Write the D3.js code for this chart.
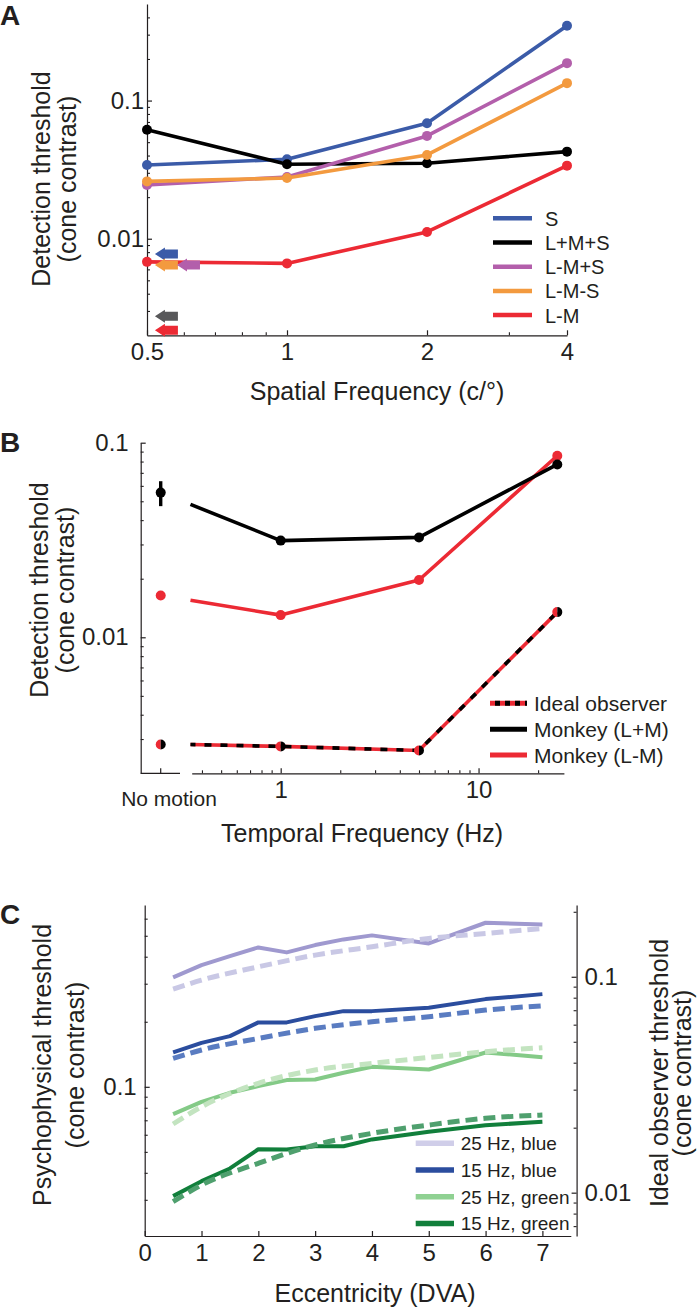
<!DOCTYPE html>
<html><head><meta charset="utf-8">
<script src="https://cdn.jsdelivr.net/npm/d3@7"></script>
<style>
body{margin:0;background:#fff}
svg text{font-family:"Liberation Sans",Arial,sans-serif;fill:#231f20}
</style></head><body>
<script>
// ================= DATA =================
// Panel A : detection threshold vs spatial frequency
const sfA = [0.5, 1, 2, 4];
const namesA = ["S", "L+M+S", "L-M+S", "L-M-S", "L-M"];
const colorsA = ["#3b5ba8", "#000000", "#b35fab", "#f39a3f", "#ec2a34"];
const thrA_S     = [0.0342, 0.0376, 0.0686, 0.348];
const thrA_LpMpS = [0.0614, 0.0346, 0.0352, 0.0427];
const thrA_LmMpS = [0.0245, 0.0280, 0.0555, 0.1866];
const thrA_LmMmS = [0.0260, 0.0275, 0.0404, 0.1337];
const thrA_LmM   = [0.0068, 0.00663, 0.0112, 0.0338];
// arrows (ideal observer thresholds)
const arrowNamesA = ["S", "L-M-S", "L-M+S", "L+M+S", "L-M"];
const arrowValsA  = [0.00775, 0.00645, 0.00645, 0.00275, 0.00218];
const arrowSfA    = [0.52, 0.52, 0.58, 0.52, 0.52];
const arrowColorsA = ["#3b5ba8", "#f39a3f", "#b35fab", "#58585a", "#ec2a34"];
const yTicksA = [0.01, 0.1];
const yTickLabelsA = ["0.01", "0.1"];
const xTicksA = [0.5, 1, 2, 4];
const xTickLabelsA = ["0.5", "1", "2", "4"];

// Panel B : detection threshold vs temporal frequency
const tfB = [0.35, 1, 5, 25];
const thrB_LpM   = [0.0482, 0.0314, 0.0326, 0.0773];
const thrB_LmM   = [0.0155, 0.0130, 0.0197, 0.0857];
const thrB_Ideal = [0.00281, 0.00275, 0.00262, 0.01347];
const markB = [false, true, true, true];
const noMotionB = {LpM: 0.0554, LmM: 0.0164, Ideal: 0.00281};
const noMotionErrB = {LpM: [0.0472, 0.0634], LmM: [0.0157, 0.0172]};
const errB_LpM_5 = [0.0312, 0.0340];
const namesB = ["Ideal observer", "Monkey (L+M)", "Monkey (L-M)"];
const yTicksB = [0.01, 0.1];
const yTickLabelsB = ["0.01", "0.1"];
const xTicksB = [1, 10];
const xTickLabelsB = ["1", "10"];

// Panel C : thresholds vs eccentricity
const eccC = [0.5, 1, 1.5, 2, 2.5, 3, 3.5, 4, 5, 6, 7];
const psy25Blue  = [0.3208, 0.3659, 0.4027, 0.4416, 0.4188, 0.4528, 0.481, 0.5021, 0.4609, 0.5744, 0.5643];
const psy15Blue  = [0.1442, 0.1598, 0.1716, 0.1986, 0.1986, 0.2124, 0.2240, 0.2240, 0.2322, 0.2546, 0.2685];
const psy25Green = [0.0747, 0.0852, 0.0938, 0.1007, 0.1074, 0.1081, 0.1161, 0.1238, 0.1203, 0.1442, 0.1372];
const psy15Green = [0.0312, 0.0366, 0.0419, 0.0514, 0.0513, 0.0531, 0.0531, 0.0571, 0.0619, 0.0664, 0.0689];
const eccIdeal = [0.5, 1, 2, 3, 4, 5, 6, 7];
const ideal25Blue  = [0.0877, 0.0965, 0.1112, 0.126, 0.1377, 0.1505, 0.1587, 0.1674];
const ideal15Blue  = [0.0419, 0.0458, 0.0518, 0.0577, 0.0619, 0.0653, 0.0701, 0.0734];
const ideal25Green = [0.0208, 0.0250, 0.0321, 0.0370, 0.0397, 0.0423, 0.0450, 0.0469];
const ideal15Green = [0.00908, 0.01085, 0.01368, 0.01664, 0.01883, 0.02057, 0.0221, 0.0229];
const namesC = ["25 Hz, blue", "15 Hz, blue", "25 Hz, green", "15 Hz, green"];
const xTicksC = [0, 1, 2, 3, 4, 5, 6, 7];
const yTicksCLeft = [0.1];
const yTickLabelsCLeft = ["0.1"];
const yTicksCRight = [0.01, 0.1];
const yTickLabelsCRight = ["0.01", "0.1"];

// ================= DRAW =================
const W = 697, H = 1311;
const svg = d3.select("body").append("svg").attr("width", W).attr("height", H);
const INK = "#231f20";
const TFS = 25; // title font size

function minorLog(lo, hi) {
  const out = [];
  for (let e = -4; e <= 2; e++) {
    for (let m = 2; m <= 9; m++) {
      const v = +(m * Math.pow(10, e)).toPrecision(3);
      if (v > lo * 1.001 && v < hi * 0.999) out.push(v);
    }
  }
  return out;
}

function drawAxis(g, axisGen, major, labels, minor, fs, pad) {
  const a = g.append("g").call(axisGen.tickValues(major).tickFormat((d, i) => labels[i]).tickSize(-5).tickSizeOuter(0).tickPadding(pad));
  a.selectAll("path,line").attr("stroke", INK).attr("stroke-width", 1.2);
  a.selectAll("text").attr("font-size", fs).attr("font-family", '"Liberation Sans",Arial,sans-serif').attr("fill", INK);
  if (minor && minor.length) {
    const m = g.append("g").call(axisGen.tickValues(minor).tickFormat("").tickSize(-3).tickSizeOuter(0));
    m.select(".domain").remove();
    m.selectAll("line").attr("stroke", INK).attr("stroke-width", 1.1);
  }
  return a;
}

function rotLabel(x, y, txt, fs) {
  svg.append("text").attr("transform", `translate(${x},${y}) rotate(-90)`)
    .attr("text-anchor", "middle").attr("font-size", fs).text(txt);
}

// ---------- Panel A ----------
const xA = d3.scaleLog().domain([0.5, 4]).range([147, 567]);
const yA = d3.scaleLog().domain([0.002, 0.5]).range([335.3, 4]);
const gA = svg.append("g");
drawAxis(gA.append("g").attr("transform", "translate(0,335.3)"), d3.axisBottom(xA), xTicksA, xTickLabelsA, [0.6, 0.7, 0.8, 0.9, 3], 24, 8);
drawAxis(gA.append("g").attr("transform", "translate(147,0)"), d3.axisLeft(yA), yTicksA, yTickLabelsA, minorLog(0.002, 0.5), 24, 3);

const seriesA = [thrA_S, thrA_LpMpS, thrA_LmMpS, thrA_LmMmS, thrA_LmM];
const lineA = d3.line().x(d => xA(d[0])).y(d => yA(d[1]));
seriesA.forEach((vals, i) => {
  const pts = sfA.map((s, j) => [s, vals[j]]);
  gA.append("path").attr("d", lineA(pts)).attr("fill", "none").attr("stroke", colorsA[i]).attr("stroke-width", 3.6).attr("stroke-linejoin", "round");
  gA.selectAll(null).data(pts).enter().append("circle").attr("cx", d => xA(d[0])).attr("cy", d => yA(d[1])).attr("r", 5).attr("fill", colorsA[i]);
});
// arrows
arrowValsA.forEach((v, i) => {
  const tx = xA(arrowSfA[i]), ty = yA(v);
  const p = `M${tx},${ty} L${tx + 10},${ty - 6.5} L${tx + 10},${ty - 4.5} L${tx + 23},${ty - 4.5} L${tx + 23},${ty + 4.5} L${tx + 10},${ty + 4.5} L${tx + 10},${ty + 6.5} Z`;
  gA.append("path").attr("d", p).attr("fill", arrowColorsA[i]);
});
// legend A
namesA.forEach((n, i) => {
  const ly = 218.3 + 24.2 * i;
  gA.append("line").attr("x1", 493).attr("x2", 532).attr("y1", ly).attr("y2", ly).attr("stroke", colorsA[i]).attr("stroke-width", 4.5);
  gA.append("text").attr("x", 545).attr("y", ly + 7.5).attr("font-size", 20).text(n);
});
svg.append("text").attr("x", 0).attr("y", 25).attr("font-size", 28).attr("font-weight", "bold").text("A");
rotLabel(50, 179, "Detection threshold", TFS);
rotLabel(76, 179, "(cone contrast)", TFS);
svg.append("text").attr("x", 377).attr("y", 400).attr("text-anchor", "middle").attr("font-size", TFS).text("Spatial Frequency (c/°)");

// ---------- Panel B ----------
const xB = d3.scaleLog().domain([0.355, 27]).range([191.7, 563.9]);
const yB = d3.scaleLog().domain([0.002, 0.1]).range([773.3, 442.7]);
const xNoMotion = 160.7;
const gB = svg.append("g");
// first (no motion) segment of the broken x axis
gB.append("line").attr("x1", 140.7).attr("x2", 180).attr("y1", 773.3).attr("y2", 773.3).attr("stroke", INK).attr("stroke-width", 1.2);
gB.append("line").attr("x1", xNoMotion).attr("x2", xNoMotion).attr("y1", 773.3).attr("y2", 768.3).attr("stroke", INK).attr("stroke-width", 1.2);
const minorB = [0.4, 0.5, 0.6, 0.7, 0.8, 0.9, 2, 3, 4, 5, 6, 7, 8, 9, 20];
drawAxis(gB.append("g").attr("transform", "translate(0,773.3)"), d3.axisBottom(xB), xTicksB, xTickLabelsB, minorB, 24, 8);
drawAxis(gB.append("g").attr("transform", "translate(140.7,0)"), d3.axisLeft(yB), yTicksB, yTickLabelsB, minorLog(0.002, 0.1), 24, 12);

const lineB = d3.line().x(d => xB(d[0])).y(d => yB(d[1]));
function ptsB(vals) { return tfB.map((t, j) => [t, vals[j]]); }
gB.append("path").attr("d", lineB(ptsB(thrB_LmM))).attr("fill", "none").attr("stroke", "#ec2a34").attr("stroke-width", 3.6).attr("stroke-linejoin", "round");
gB.append("path").attr("d", lineB(ptsB(thrB_LpM))).attr("fill", "none").attr("stroke", "#000").attr("stroke-width", 3.6).attr("stroke-linejoin", "round");
gB.append("path").attr("d", lineB(ptsB(thrB_Ideal))).attr("fill", "none").attr("stroke", "#ec2a34").attr("stroke-width", 3.6);
gB.append("path").attr("d", lineB(ptsB(thrB_Ideal))).attr("fill", "none").attr("stroke", "#000").attr("stroke-width", 3.6).attr("stroke-dasharray", "7,9").attr("stroke-dashoffset", -14);
function dot(cx, cy, col) { gB.append("circle").attr("cx", cx).attr("cy", cy).attr("r", 5).attr("fill", col); }
function halfDot(cx, cy) {
  const r = 5;
  gB.append("path").attr("d", `M${cx},${cy - r} A${r},${r} 0 0 0 ${cx},${cy + r} Z`).attr("fill", "#ec2a34");
  gB.append("path").attr("d", `M${cx},${cy - r} A${r},${r} 0 0 1 ${cx},${cy + r} Z`).attr("fill", "#000");
}
tfB.forEach((t, j) => {
  if (!markB[j]) return;
  dot(xB(t), yB(thrB_LmM[j]), "#ec2a34");
  dot(xB(t), yB(thrB_LpM[j]), "#000");
  halfDot(xB(t), yB(thrB_Ideal[j]));
});
function errBar(x, lo, hi, col) { gB.append("line").attr("x1", x).attr("x2", x).attr("y1", yB(lo)).attr("y2", yB(hi)).attr("stroke", col).attr("stroke-width", 3.4); }
errBar(xNoMotion, noMotionErrB.LpM[0], noMotionErrB.LpM[1], "#000");
errBar(xNoMotion, noMotionErrB.LmM[0], noMotionErrB.LmM[1], "#ec2a34");
errBar(xB(5), errB_LpM_5[0], errB_LpM_5[1], "#000");
dot(xNoMotion, yB(noMotionB.LpM), "#000");
dot(xNoMotion, yB(noMotionB.LmM), "#ec2a34");
halfDot(xNoMotion, yB(noMotionB.Ideal));
namesB.forEach((n, i) => {
  const ly = 703.3 + 25.9 * i;
  if (i === 0) {
    gB.append("line").attr("x1", 490).attr("x2", 527).attr("y1", ly).attr("y2", ly).attr("stroke", "#ec2a34").attr("stroke-width", 5);
    gB.append("line").attr("x1", 490).attr("x2", 527).attr("y1", ly).attr("y2", ly).attr("stroke", "#000").attr("stroke-width", 5).attr("stroke-dasharray", "5,5").attr("stroke-dashoffset", -5);
  } else {
    gB.append("line").attr("x1", 490).attr("x2", 527).attr("y1", ly).attr("y2", ly).attr("stroke", i === 1 ? "#000" : "#ec2a34").attr("stroke-width", 5);
  }
  gB.append("text").attr("x", 534).attr("y", ly + 7.5).attr("font-size", 21).text(n);
});
svg.append("text").attr("x", 0).attr("y", 452).attr("font-size", 28).attr("font-weight", "bold").text("B");
svg.append("text").attr("x", 169).attr("y", 806).attr("text-anchor", "middle").attr("font-size", 21).text("No motion");
rotLabel(48, 590, "Detection threshold", TFS);
rotLabel(74, 590, "(cone contrast)", TFS);
svg.append("text").attr("x", 362).attr("y", 842).attr("text-anchor", "middle").attr("font-size", TFS).text("Temporal Frequency (Hz)");

// ---------- Panel C ----------
const xC = d3.scaleLinear().domain([0, 7.5]).range([144.7, 570.8]);
const yCL = d3.scaleLog().domain([0.0204, 0.694]).range([1236, 905]);
const yCR = d3.scaleLog().domain([0.0063, 0.215]).range([1236, 905]);
const gC = svg.append("g");
drawAxis(gC.append("g").attr("transform", "translate(0,1236)"), d3.axisBottom(xC), xTicksC, xTicksC.map(String), [], 24, 8);
drawAxis(gC.append("g").attr("transform", "translate(144.7,0)"), d3.axisLeft(yCL), yTicksCLeft, yTickLabelsCLeft, minorLog(0.0204, 0.694), 24, 8);
drawAxis(gC.append("g").attr("transform", "translate(576.6,0)"), d3.axisRight(yCR), yTicksCRight, yTickLabelsCRight, minorLog(0.0063, 0.215), 24, 8);

const stylesC = [
  {psy: psy25Blue, ideal: ideal25Blue, solid: "#9f99cf", dash: "#c9c8e5", leg: "#d0cee9"},
  {psy: psy15Blue, ideal: ideal15Blue, solid: "#2b4d9e", dash: "#5a7cc1", leg: "#2b4d9e"},
  {psy: psy25Green, ideal: ideal25Green, solid: "#84ca87", dash: "#c3e4c0", leg: "#8fd192"},
  {psy: psy15Green, ideal: ideal15Green, solid: "#117f3b", dash: "#4fa06e", leg: "#117f3b"}
];
stylesC.forEach(s => {
  const lp = d3.line().x(d => xC(d[0])).y(d => yCL(d[1]));
  gC.append("path").attr("d", lp(eccC.map((e, j) => [e, s.psy[j]]))).attr("fill", "none").attr("stroke", s.solid).attr("stroke-width", 4).attr("stroke-linejoin", "round");
  const li = d3.line().x(d => xC(d[0])).y(d => yCR(d[1])).curve(d3.curveMonotoneX);
  gC.append("path").attr("d", li(eccIdeal.map((e, j) => [e, s.ideal[j]]))).attr("fill", "none").attr("stroke", s.dash).attr("stroke-width", 5).attr("stroke-dasharray", "12,6");
});
namesC.forEach((n, i) => {
  const ly = 1143.3 + 26.7 * i;
  gC.append("line").attr("x1", 415.7).attr("x2", 454).attr("y1", ly).attr("y2", ly).attr("stroke", stylesC[i].leg).attr("stroke-width", 5.5);
  gC.append("text").attr("x", 460.7).attr("y", ly + 7).attr("font-size", 19).text(n);
});
svg.append("text").attr("x", 0).attr("y", 924).attr("font-size", 28).attr("font-weight", "bold").text("C");
rotLabel(51, 1065, "Psychophysical threshold", TFS);
rotLabel(84, 1065, "(cone contrast)", TFS);
rotLabel(668, 1073, "Ideal observer threshold", TFS);
rotLabel(691, 1073, "(cone contrast)", TFS);
svg.append("text").attr("x", 375).attr("y", 1302).attr("text-anchor", "middle").attr("font-size", TFS).text("Eccentricity (DVA)");
</script>
</body></html>
